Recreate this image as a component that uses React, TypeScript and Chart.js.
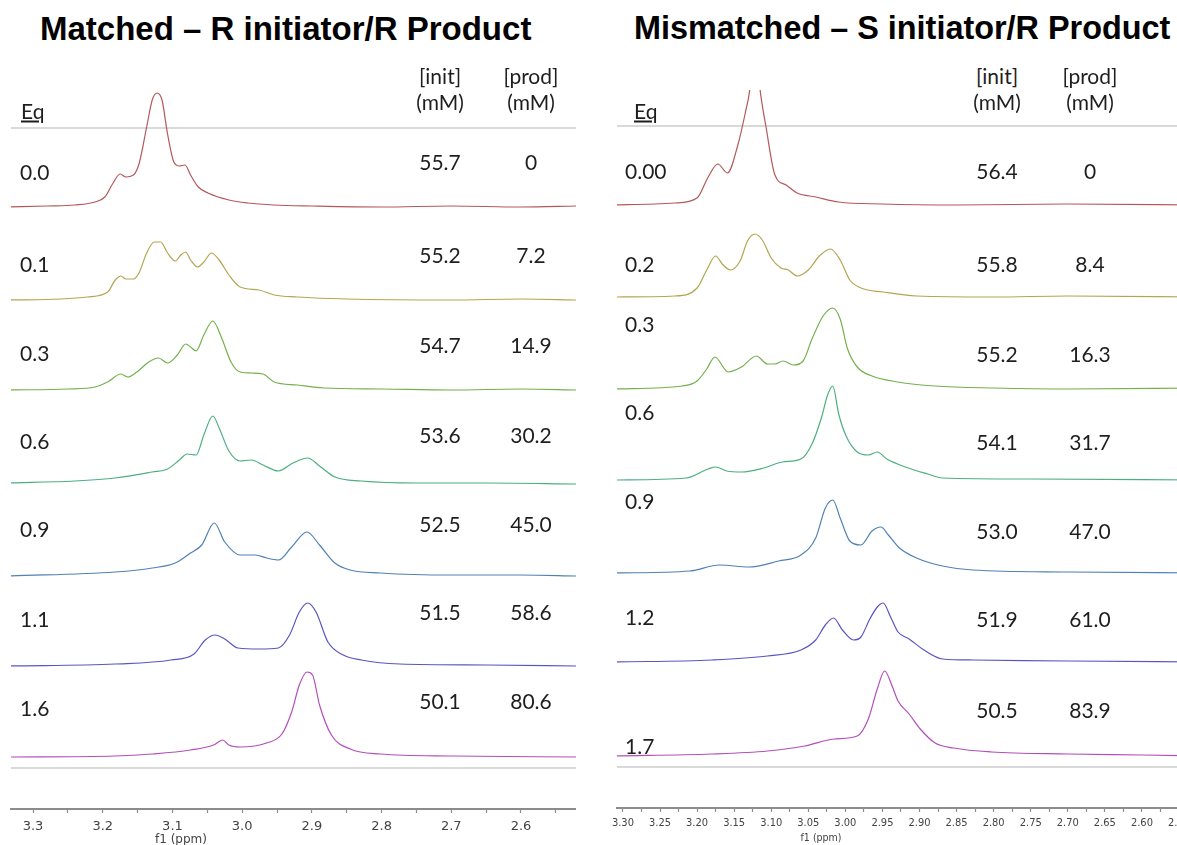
import React, { useEffect, useRef } from 'react';
import { Chart, registerables } from 'chart.js';

Chart.register(...registerables);

// ---------- data: matched (R initiator / R product) ----------
const MATCHED_EQ = ['0.0', '0.1', '0.3', '0.6', '0.9', '1.1', '1.6'];
const MATCHED_INIT = ['55.7', '55.2', '54.7', '53.6', '52.5', '51.5', '50.1'];
const MATCHED_PROD = ['0', '7.2', '14.9', '30.2', '45.0', '58.6', '80.6'];

// [ppm, intensity] pairs
const M_EQ00 = [[3.335,0],[3.28,1],[3.24,2],[3.211,5],[3.197,10],[3.186,23],[3.175,33],[3.167,30],[3.156,32],[3.148,43],[3.137,80],[3.129,107],[3.122,114],[3.115,107],[3.107,73],[3.098,45],[3.09,41],[3.082,42],[3.074,32],[3.063,20],[3.049,14],[3.019,7],[2.992,4],[2.954,2],[2.9,1],[2.8,0],[2.7,1],[2.6,0],[2.52,1]];
const M_EQ01 = [[3.335,0],[3.26,1],[3.222,3],[3.193,8],[3.182,20],[3.174,24],[3.167,21],[3.156,21],[3.148,27],[3.137,47],[3.126,58],[3.117,58],[3.107,47],[3.096,39],[3.088,45],[3.081,48],[3.074,40],[3.064,33],[3.055,38],[3.044,47],[3.033,40],[3.019,25],[3.003,13],[2.976,10],[2.954,5],[2.921,3],[2.85,1],[2.7,0],[2.6,1],[2.52,0]];
const M_EQ03 = [[3.335,0],[3.25,1],[3.211,3],[3.193,8],[3.174,16],[3.164,13],[3.151,18],[3.134,28],[3.12,32],[3.107,27],[3.093,35],[3.081,46],[3.074,43],[3.066,39],[3.055,55],[3.042,69],[3.03,53],[3.016,28],[3.003,18],[2.987,17],[2.97,16],[2.954,8],[2.921,5],[2.883,2],[2.8,1],[2.7,0],[2.6,1],[2.52,0]];
const M_EQ06 = [[3.335,1],[3.24,3],[3.182,6],[3.129,12],[3.107,15],[3.09,24],[3.079,30],[3.066,29],[3.055,49],[3.042,68],[3.033,56],[3.019,33],[3.003,23],[2.987,24],[2.97,19],[2.948,13],[2.927,21],[2.906,26],[2.889,18],[2.867,7],[2.829,3],[2.75,1],[2.65,1],[2.52,0]];
const M_EQ09 = [[3.335,0],[3.182,4],[3.129,8],[3.096,13],[3.074,23],[3.058,31],[3.04,53],[3.025,34],[3.003,21],[2.981,21],[2.965,18],[2.948,16],[2.929,29],[2.907,44],[2.889,31],[2.867,13],[2.845,6],[2.802,3],[2.7,1],[2.6,1],[2.52,0]];
const M_EQ11 = [[3.335,0],[3.182,2],[3.102,6],[3.069,12],[3.053,26],[3.039,31],[3.025,27],[3.006,18],[2.976,17],[2.948,18],[2.932,31],[2.918,54],[2.906,63],[2.894,54],[2.877,24],[2.855,11],[2.829,6],[2.774,2],[2.65,1],[2.52,0]];
const M_EQ16 = [[3.335,0],[3.182,1],[3.129,3],[3.074,7],[3.041,12],[3.028,17],[3.019,12],[3.003,10],[2.965,14],[2.943,23],[2.929,45],[2.918,72],[2.907,85],[2.899,82],[2.889,52],[2.872,22],[2.845,8],[2.802,3],[2.7,1],[2.52,0]];
const MATCHED_TRACES = [M_EQ00, M_EQ01, M_EQ03, M_EQ06, M_EQ09, M_EQ11, M_EQ16];

// ---------- data: mismatched (S initiator / R product) ----------
const MISMATCHED_EQ = ['0.00', '0.2', '0.3', '0.6', '0.9', '1.2', '1.7'];
const MISMATCHED_INIT = ['56.4', '55.8', '55.2', '54.1', '53.0', '51.9', '50.5'];
const MISMATCHED_PROD = ['0', '8.4', '16.3', '31.7', '47.0', '61.0', '83.9'];

const S_EQ000 = [[3.31,0],[3.23,2],[3.2,7],[3.185,28],[3.172,41],[3.159,32],[3.145,60],[3.135,92],[3.129,115],[3.122,170],[3.115,115],[3.107,78],[3.095,30],[3.08,20],[3.065,12],[3.04,8],[3.009,3],[2.95,1],[2.85,0],[2.7,1],[2.52,0]];
const S_EQ02 = [[3.31,0],[3.23,1],[3.2,9],[3.187,27],[3.175,41],[3.165,32],[3.155,27],[3.142,36],[3.132,56],[3.122,63],[3.112,57],[3.1,39],[3.087,29],[3.077,27],[3.065,21],[3.05,27],[3.035,41],[3.02,48],[3.007,37],[2.994,17],[2.979,9],[2.949,5],[2.904,1],[2.8,0],[2.7,1],[2.52,0]];
const S_EQ03 = [[3.31,0],[3.22,3],[3.2,8],[3.187,20],[3.176,32],[3.158,17],[3.14,22],[3.12,33],[3.105,25],[3.095,25],[3.084,28],[3.07,24],[3.057,28],[3.045,50],[3.03,73],[3.017,81],[3.007,70],[2.997,40],[2.984,22],[2.964,13],[2.929,7],[2.879,3],[2.8,1],[2.7,0],[2.52,1]];
const S_EQ06 = [[3.31,0],[3.215,2],[3.185,11],[3.175,13],[3.16,9],[3.14,8],[3.11,12],[3.085,18],[3.06,21],[3.045,36],[3.032,63],[3.024,85],[3.017,94],[3.009,66],[2.999,44],[2.984,28],[2.969,25],[2.957,28],[2.944,21],[2.919,13],[2.889,6],[2.869,2],[2.75,1],[2.52,0]];
const S_EQ09 = [[3.31,0],[3.21,2],[3.17,8],[3.13,6],[3.09,12],[3.06,18],[3.04,35],[3.027,65],[3.017,73],[3.007,55],[2.994,32],[2.979,28],[2.964,42],[2.952,46],[2.942,38],[2.927,25],[2.904,15],[2.869,7],[2.828,3],[2.7,1],[2.52,0]];
const S_EQ12 = [[3.31,0],[3.18,2],[3.105,6],[3.06,12],[3.04,22],[3.027,37],[3.016,44],[3.004,32],[2.989,22],[2.979,25],[2.967,43],[2.957,55],[2.949,59],[2.939,45],[2.929,30],[2.914,23],[2.894,12],[2.869,3],[2.828,2],[2.7,1],[2.52,0]];
const S_EQ17 = [[3.31,0],[3.18,2],[3.105,5],[3.055,10],[3.015,17],[2.984,20],[2.969,37],[2.957,67],[2.947,85],[2.937,70],[2.929,55],[2.914,42],[2.899,27],[2.879,13],[2.854,8],[2.803,4],[2.7,2],[2.6,1],[2.52,0]];
const MISMATCHED_TRACES = [S_EQ000, S_EQ02, S_EQ03, S_EQ06, S_EQ09, S_EQ12, S_EQ17];

const TRACE_COLORS = ['#b4585c', '#b3a650', '#74b04c', '#4caf82', '#4f82b3', '#5b55c2', '#b24fba'];

// ---------- layout ----------
const LEFT = {
  left: 0, top: 60, width: 576, height: 785, axisH: 36, padLeft: 11,
  xMin: 2.5211, xMax: 3.3316, step: 0.05, labelEvery: 10, decimals: 1,
  font: { family: 'DejaVu Sans', size: 13 }, tickPad: 6,
  baselines: [207, 300, 390, 484, 576, 666, 757],
};
const RIGHT = {
  left: 600, top: 90, width: 600, height: 755, axisH: 37, padLeft: 17,
  xMin: 2.5217, xMax: 3.308, step: 0.025, labelEvery: 20, decimals: 2,
  font: { family: 'DejaVu Sans Condensed', size: 11 }, tickPad: 5,
  baselines: [205, 297, 389, 480, 573, 662, 756],
};

type Cfg = typeof LEFT;

function Spectra({ cfg, traces }: { cfg: Cfg; traces: number[][][] }) {
  const ref = useRef<HTMLCanvasElement | null>(null);
  useEffect(() => {
    if (!ref.current) return;
    const bottom = cfg.top + cfg.height - cfg.axisH;
    const areaH = cfg.height - cfg.axisH;
    const chart = new Chart(ref.current, {
      type: 'line',
      data: {
        datasets: traces.map((pts, i) => ({
          data: pts.map(([x, y]) => ({ x, y: y + (bottom - cfg.baselines[i]) })),
          borderColor: TRACE_COLORS[i],
          borderWidth: 1.2,
          pointRadius: 0,
          fill: false,
          cubicInterpolationMode: 'monotone' as const,
        })),
      },
      options: {
        responsive: false,
        animation: false,
        events: [],
        layout: { padding: { left: cfg.padLeft, right: 0, top: 0, bottom: 0 }, autoPadding: false },
        plugins: { legend: { display: false }, tooltip: { enabled: false } },
        scales: {
          x: {
            type: 'linear',
            reverse: true,
            min: cfg.xMin,
            max: cfg.xMax,
            afterFit: (s: any) => {
              s.height = cfg.axisH;
              s.paddingLeft = 0;
              s.paddingRight = 0;
            },
            border: { display: true, color: '#8c8c8c', width: 2 },
            grid: { display: true, drawOnChartArea: false, drawTicks: true, tickLength: 4, tickColor: '#8c8c8c', tickWidth: 1.2 },
            ticks: {
              stepSize: cfg.step,
              includeBounds: false,
              autoSkip: false,
              maxRotation: 0,
              minRotation: 0,
              padding: cfg.tickPad,
              color: '#444',
              font: cfg.font,
              callback: (v: any) => {
                const n = Number(v);
                const k = n * cfg.labelEvery;
                return Math.abs(k - Math.round(k)) < 1e-6 ? n.toFixed(cfg.decimals) : '';
              },
            },
          },
          y: { display: false, min: 0, max: areaH },
        },
      },
    });
    return () => chart.destroy();
  }, [cfg, traces]);
  return (
    <canvas
      ref={ref}
      width={cfg.width}
      height={cfg.height}
      style={{ position: 'absolute', left: cfg.left, top: cfg.top, width: cfg.width, height: cfg.height }}
    />
  );
}

const TXT = 'Lato, "Open Sans", sans-serif';

function T({ x, y, children, size = 21, align = 'center', style = {} }: any) {
  const tx = align === 'center' ? '-50%' : align === 'right' ? '-100%' : '0';
  return (
    <div
      style={{
        position: 'absolute', left: x, top: y, transform: `translate(${tx}, -50%)`,
        fontFamily: TXT, fontSize: size, lineHeight: 1, color: '#1e1e1e', whiteSpace: 'nowrap', ...style,
      }}
    >
      {children}
    </div>
  );
}

function Rule({ x, y, w }: { x: number; y: number; w: number }) {
  return <div style={{ position: 'absolute', left: x, top: y - 1, width: w, height: 2, background: '#d9d9d9' }} />;
}

const L_EQ_Y = [171, 263, 352, 440, 528, 618, 707];
const L_VAL_Y = [161, 254, 344, 434, 523, 611, 700];
const R_EQ_Y = [170, 263, 323, 411, 500, 616, 745];
const R_VAL_Y = [170, 263, 353, 441, 530, 618, 709];

const TITLE_STYLE = {
  position: 'absolute' as const, top: 12, fontFamily: '"Liberation Sans", Arial, sans-serif',
  fontWeight: 700, lineHeight: 1, color: '#000', whiteSpace: 'nowrap' as const,
};

export default function App() {
  return (
    <div style={{ position: 'fixed', left: 0, top: 0, width: 1177, height: 845, overflow: 'hidden', background: '#fff' }}>
      <div style={{ ...TITLE_STYLE, left: 40, fontSize: 33 }}>Matched – R initiator/R Product</div>
      <div style={{ ...TITLE_STYLE, left: 634, fontSize: 32.4 }}>Mismatched – S initiator/R Product</div>

      <Rule x={11} y={128} w={565} />
      <Rule x={11} y={768} w={565} />
      <Rule x={617} y={126} w={560} />
      <Rule x={617} y={767} w={560} />

      <Spectra cfg={LEFT} traces={MATCHED_TRACES} />
      <Spectra cfg={RIGHT} traces={MISMATCHED_TRACES} />

      {/* left table */}
      <T x={21} y={110} align="left" style={{ textDecoration: 'underline' }}>Eq</T>
      <T x={440} y={75}>[init]</T>
      <T x={440} y={101}>(mM)</T>
      <T x={531} y={75}>[prod]</T>
      <T x={531} y={101}>(mM)</T>
      {MATCHED_EQ.map((e, i) => <T key={'le' + i} x={20} y={L_EQ_Y[i]} align="left">{e}</T>)}
      {MATCHED_INIT.map((e, i) => <T key={'li' + i} x={440} y={L_VAL_Y[i]}>{e}</T>)}
      {MATCHED_PROD.map((e, i) => <T key={'lp' + i} x={531} y={L_VAL_Y[i]}>{e}</T>)}

      {/* right table */}
      <T x={634} y={110} align="left" style={{ textDecoration: 'underline' }}>Eq</T>
      <T x={997} y={75}>[init]</T>
      <T x={997} y={101}>(mM)</T>
      <T x={1090} y={75}>[prod]</T>
      <T x={1090} y={101}>(mM)</T>
      {MISMATCHED_EQ.map((e, i) => <T key={'re' + i} x={625} y={R_EQ_Y[i]} align="left">{e}</T>)}
      {MISMATCHED_INIT.map((e, i) => <T key={'ri' + i} x={997} y={R_VAL_Y[i]}>{e}</T>)}
      {MISMATCHED_PROD.map((e, i) => <T key={'rp' + i} x={1090} y={R_VAL_Y[i]}>{e}</T>)}

      {/* axis titles */}
      <T x={181} y={839} size={12} style={{ fontFamily: '"DejaVu Sans", sans-serif', color: '#444' }}>f1 (ppm)</T>
      <T x={821} y={837} size={10.5} style={{ fontFamily: '"DejaVu Sans Condensed", "DejaVu Sans", sans-serif', color: '#444' }}>f1 (ppm)</T>
    </div>
  );
}
